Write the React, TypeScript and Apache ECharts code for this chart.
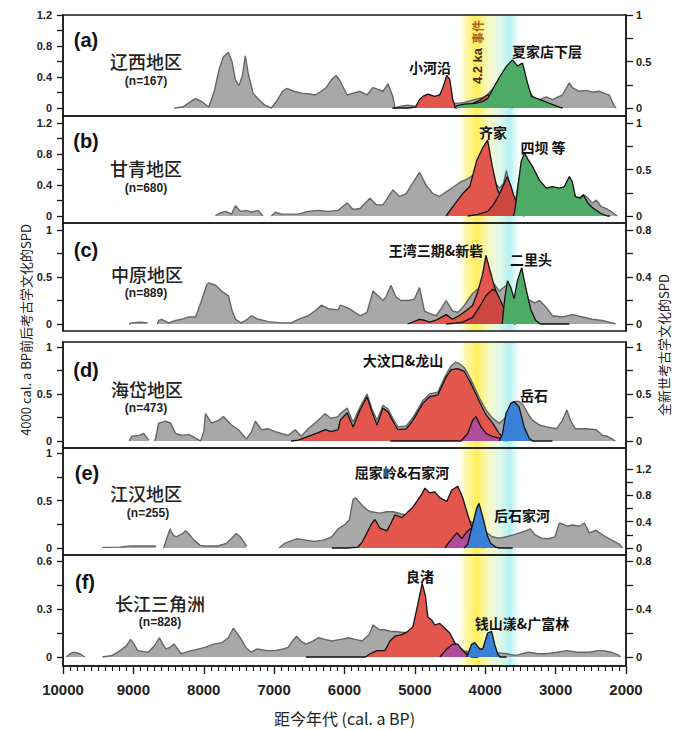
import React, { useEffect, useRef } from "react";
import * as echarts from "echarts";

// ---------- axis / band values ----------
const X_RANGE = [2000, 10000];
const X_TICK = 1000;
const EVENT_BAND = [4380, 3500];

// ---------- (a) 辽西 ----------
const A_GRAY = [[8420,0],[8300,0.01],[8200,0.06],[8120,0.1],[8030,0.07],[7930,0.01],[7850,0.18],[7780,0.42],[7720,0.55],[7650,0.6],[7600,0.5],[7550,0.3],[7500,0.24],[7450,0.35],[7410,0.56],[7370,0.38],[7300,0.16],[7230,0.1],[7130,0.03],[7040,0],[6960,0.08],[6880,0.18],[6820,0.21],[6720,0.18],[6610,0.16],[6500,0.15],[6420,0.14],[6330,0.18],[6260,0.22],[6190,0.3],[6120,0.35],[6062,0.29],[5963,0.14],[5878,0.16],[5779,0.18],[5680,0.14],[5595,0.22],[5524,0.2],[5453,0.18],[5382,0.26],[5312,0.12],[5283,0],[5200,0.02],[5100,0.03],[5000,0.02],[4900,0.04],[4800,0.05],[4700,0.06],[4600,0.06],[4500,0.05],[4400,0.05],[4300,0.06],[4100,0.1],[4000,0.12],[3900,0.2],[3800,0.3],[3700,0.4],[3600,0.45],[3500,0.45],[3400,0.2],[3300,0.1],[3229,0.09],[3130,0.12],[3045,0.09],[2904,0.14],[2805,0.27],[2762,0.22],[2663,0.18],[2564,0.19],[2479,0.17],[2380,0.18],[2280,0.15],[2238,0.14],[2167,0.02],[2140,0]];
const A_XIAOHEYAN = [[5320,0],[5100,0],[4990,0.01],[4940,0.1],[4887,0.15],[4816,0.18],[4717,0.15],[4646,0.17],[4603,0.26],[4547,0.42],[4504,0.37],[4462,0.11],[4420,0],[4330,0.02],[4221,0.04],[4079,0.1],[3966,0.17],[3895,0.15],[3796,0.06],[3697,0.03],[3612,0]];
const A_XIAJIADIAN = [[4440,0],[4400,0.03],[4300,0.05],[4150,0.06],[4050,0.08],[3966,0.12],[3895,0.24],[3796,0.4],[3697,0.54],[3612,0.62],[3541,0.54],[3470,0.58],[3399,0.32],[3343,0.15],[3229,0.11],[3088,0.06],[2946,0.01],[2900,0]];

// ---------- (b) 甘青 ----------
const B_GRAY = [[7833,0],[7780,0.03],[7691,0.05],[7606,0.02],[7550,0.11],[7479,0.05],[7394,0.06],[7323,0.04],[7224,0.06],[7160,0],[7120,"-"],[7040,0],[6983,0.04],[6898,0.02],[6657,0.02],[6516,0.05],[6374,0.06],[6232,0.05],[6090,0.06],[6062,0.08],[5963,0.14],[5878,0.07],[5779,0.08],[5638,0.19],[5547,0.12],[5453,0.12],[5312,0.28],[5218,0.21],[5123,0.24],[5052,0.33],[4934,0.47],[4840,0.33],[4745,0.24],[4651,0.21],[4556,0.26],[4438,0.32],[4344,0.37],[4273,0.39],[4150,0.45],[4000,0.5],[3900,0.4],[3800,0.3],[3740,0.35],[3700,0.49],[3640,0.3],[3580,0.1],[3520,0.4],[3450,0.55],[3330,0.45],[3230,0.33],[3130,0.28],[3045,0.28],[2946,0.28],[2876,0.3],[2805,0.38],[2762,0.33],[2720,0.2],[2650,0.2],[2606,0.23],[2564,0.21],[2480,0.14],[2422,0.17],[2351,0.1],[2280,0.08],[2195,0.04],[2125,0]];
const B_QIJIA = [[4556,0],[4460,0.12],[4320,0.29],[4220,0.38],[4120,0.72],[4030,0.89],[3966,0.98],[3900,0.64],[3830,0.35],[3760,0.2],[3690,0.12],[3610,0.05],[3520,0.02],[3450,0]];
const B_QIJIA_LATE = [[4250,0],[4100,0.02],[3966,0.06],[3880,0.15],[3800,0.28],[3740,0.4],[3690,0.51],[3640,0.4],[3600,0.28],[3540,0.14],[3480,0.04],[3440,0]];
const B_SIBA = [[3600,0],[3583,0.05],[3540,0.35],[3490,0.7],[3442,0.82],[3400,0.74],[3329,0.64],[3229,0.46],[3130,0.36],[3045,0.38],[2946,0.36],[2876,0.38],[2805,0.51],[2762,0.44],[2720,0.25],[2650,0.23],[2606,0.27],[2536,0.16],[2465,0.1],[2351,0.03],[2266,0],[2230,0]];

// ---------- (c) 中原 ----------
const C_GRAY = [[9060,0],[9023,0.01],[8900,0.015],[8800,0.01],[8760,"-"],[8660,0],[8640,0.03],[8600,0.04],[8500,0.01],[8400,0.03],[8314,0.04],[8215,0.06],[8116,0.06],[8031,0.2],[7960,0.33],[7932,0.35],[7833,0.33],[7748,0.28],[7649,0.24],[7600,0.12],[7550,0.04],[7465,0.01],[7380,0.04],[7323,0.07],[7224,0.04],[7082,0.02],[6898,0.01],[6756,0.01],[6657,0.04],[6516,0.07],[6400,0.12],[6331,0.16],[6232,0.13],[6090,0.12],[6062,0.16],[5963,0.14],[5878,0.11],[5779,0.07],[5680,0.1],[5595,0.28],[5524,0.24],[5453,0.2],[5411,0.23],[5340,0.33],[5269,0.23],[5198,0.2],[5104,0.2],[5009,0.21],[4934,0.31],[4863,0.11],[4792,0.09],[4698,0.07],[4627,0.13],[4556,0.2],[4462,0.11],[4391,0.1],[4320,0.14],[4250,0.2],[4179,0.26],[4100,0.3],[4000,0.38],[3900,0.36],[3800,0.28],[3700,0.33],[3600,0.2],[3500,0.35],[3426,0.3],[3390,0.21],[3300,0.18],[3230,0.2],[3130,0.14],[3045,0.07],[2904,0.06],[2762,0.08],[2620,0.06],[2480,0.04],[2338,0.03],[2195,0.01],[2150,0]];
const C_WANGWAN = [[5104,0],[4934,0.05],[4863,0.04],[4792,0.02],[4698,0.04],[4627,0.07],[4556,0.1],[4462,0.05],[4368,0.09],[4273,0.14],[4179,0.2],[4108,0.34],[4037,0.53],[3990,0.73],[3943,0.6],[3886,0.44],[3830,0.3],[3760,0.2],[3690,0.1],[3612,0.02],[3590,0]];
const C_XINZHAI = [[4556,0],[4420,0.01],[4320,0.02],[4179,0.07],[4084,0.18],[3990,0.3],[3895,0.37],[3848,0.35],[3801,0.28],[3730,0.16],[3660,0.05],[3612,0.01],[3565,0]];
const C_ERLITOU = [[3760,0],[3722,0.28],[3684,0.46],[3637,0.39],[3590,0.27],[3543,0.46],[3482,0.6],[3426,0.39],[3355,0.16],[3285,0.04],[3214,0],[2805,0]];

// ---------- (d) 海岱 ----------
const D_GRAY = [[9060,0],[9023,0.05],[8924,0.06],[8853,0.08],[8782,0.01],[8760,"-"],[8700,0],[8683,0.03],[8640,0.19],[8541,0.21],[8470,0.19],[8400,0.08],[8314,0.06],[8215,0.07],[8116,0.03],[8045,0],[8000,0.1],[7975,0.29],[7890,0.19],[7790,0.22],[7720,0.26],[7606,0.17],[7507,0.12],[7394,0.02],[7320,0.1],[7266,0.21],[7181,0.12],[7082,0.13],[6983,0.1],[6898,0.08],[6799,0.06],[6700,0.12],[6615,0.05],[6516,0.13],[6374,0.22],[6275,0.29],[6190,0.24],[6090,0.26],[6062,0.29],[5963,0.35],[5878,0.2],[5779,0.36],[5680,0.5],[5609,0.34],[5538,0.22],[5453,0.38],[5382,0.34],[5312,0.24],[5241,0.15],[5123,0.16],[5028,0.25],[4887,0.43],[4792,0.5],[4674,0.52],[4556,0.71],[4485,0.8],[4420,0.84],[4360,0.82],[4297,0.78],[4202,0.65],[4084,0.46],[3990,0.33],[3895,0.24],[3801,0.19],[3707,0.25],[3636,0.35],[3570,0.42],[3520,0.42],[3460,0.38],[3400,0.3],[3329,0.22],[3229,0.17],[3130,0.15],[2988,0.13],[2904,0.22],[2840,0.33],[2790,0.22],[2720,0.13],[2564,0.13],[2422,0.12],[2338,0.06],[2266,0.05],[2195,0.02],[2150,0]];
const D_DAWENKOU = [[6760,0],[6657,0.01],[6516,0.05],[6374,0.09],[6275,0.12],[6190,0.1],[6090,0.12],[6062,0.22],[5963,0.3],[5878,0.15],[5779,0.33],[5680,0.47],[5609,0.31],[5538,0.17],[5453,0.35],[5382,0.31],[5312,0.21],[5241,0.12],[5123,0.13],[5028,0.22],[4887,0.4],[4792,0.47],[4674,0.49],[4556,0.68],[4485,0.76],[4391,0.77],[4297,0.74],[4202,0.61],[4084,0.42],[3990,0.28],[3895,0.19],[3801,0.08],[3707,0.01],[3680,0]];
const D_OVERLAP = [[5350,0],[4344,0],[4250,0.08],[4179,0.22],[4132,0.26],[4061,0.15],[3990,0.08],[3895,0.05],[3801,0.03],[3707,0]];
const D_YUESHI = [[3801,0],[3754,0.08],[3707,0.29],[3636,0.4],[3589,0.42],[3518,0.36],[3447,0.15],[3376,0.03],[3329,0],[3045,0]];

// ---------- (e) 江汉 ----------
const E_GRAY = [[9440,0.01],[9200,0.014],[9040,0.03],[8800,0.03],[8680,0.03],[8630,"-"],[8570,0],[8480,0.29],[8430,0.19],[8390,0.17],[8300,0.22],[8260,0.26],[8200,0.2],[8140,0.12],[8050,0.04],[7980,0.03],[7800,0.03],[7680,0.07],[7610,0.14],[7540,0.22],[7480,0.17],[7390,0.03],[7350,"-"],[6930,0],[6850,0.07],[6680,0.14],[6550,0.12],[6430,0.1],[6300,0.12],[6180,0.17],[6090,0.29],[5990,0.36],[5930,0.43],[5878,0.74],[5840,0.76],[5750,0.65],[5680,0.58],[5620,0.55],[5500,0.53],[5400,0.55],[5310,0.55],[5200,0.52],[5120,0.5],[5000,0.5],[4800,0.5],[4600,0.5],[4400,0.5],[4200,0.4],[4000,0.25],[3900,0.17],[3800,0.15],[3700,0.17],[3600,0.2],[3513,0.23],[3450,0.25],[3360,0.29],[3290,0.2],[3200,0.15],[3100,0.14],[3010,0.17],[2946,0.38],[2890,0.36],[2830,0.33],[2770,0.35],[2663,0.33],[2592,0.38],[2521,0.23],[2427,0.27],[2333,0.2],[2286,0.17],[2200,0.12],[2096,0.06],[2050,0]];
const E_QUJIALING = [[6180,0],[5950,0],[5810,0.01],[5750,0.06],[5680,0.16],[5620,0.25],[5567,0.3],[5496,0.21],[5397,0.18],[5340,0.26],[5283,0.35],[5184,0.32],[5113,0.37],[5040,0.42],[4972,0.49],[4900,0.57],[4858,0.63],[4788,0.58],[4717,0.59],[4646,0.53],[4547,0.49],[4476,0.61],[4391,0.65],[4320,0.53],[4249,0.35],[4178,0.19],[4108,0.09],[4051,0.02],[4000,0]];
const E_OVERLAP = [[4575,0],[4504,0.07],[4405,0.16],[4334,0.1],[4249,0.18],[4193,0.21],[4122,0.09],[4079,0.02],[4040,0]];
const E_HOUSHIJIAHE = [[4300,0],[4249,0.04],[4178,0.25],[4122,0.42],[4089,0.47],[4037,0.33],[3966,0.12],[3924,0.05],[3853,0.01],[3800,0],[3610,0]];

// ---------- (f) 长江三角洲 ----------
const F_GRAY = [[9950,0],[9900,0.027],[9845,0.04],[9760,0.027],[9690,0],[9650,"-"],[9440,0],[9300,0.013],[9220,0.04],[9100,0.093],[9040,0.147],[8990,0.107],[8940,0.053],[8790,0.04],[8700,0.093],[8630,0.16],[8580,0.107],[8540,0.067],[8480,0.08],[8420,0.107],[8320,0.027],[8250,0.04],[8170,0.053],[7980,0.08],[7860,0.107],[7740,0.12],[7650,0.16],[7580,0.24],[7530,0.2],[7480,0.16],[7400,0.08],[7330,0.04],[7240,0.067],[7100,0.053],[6990,0.053],[6870,0.067],[6800,0.08],[6740,0.133],[6680,0.173],[6620,0.133],[6550,0.107],[6450,0.133],[6370,0.16],[6280,0.147],[6180,0.133],[6050,0.147],[5930,0.16],[5850,0.147],[5750,0.133],[5650,0.187],[5595,0.267],[5500,0.227],[5440,0.227],[5340,0.213],[5280,0.213],[5100,0.2],[4900,0.2],[4700,0.2],[4500,0.15],[4300,0.05],[4100,0.027],[3900,0.04],[3700,0.027],[3570,0.013],[3390,0.04],[3250,0.027],[3140,0.027],[2980,0.04],[2830,0.053],[2700,0.04],[2520,0.04],[2400,0.053],[2330,0.053],[2210,0.04],[2100,0.013],[2080,0]];
const F_LIANGZHU = [[6550,0],[5700,0],[5638,0.02],[5538,0.04],[5425,0.04],[5354,0.1],[5283,0.13],[5184,0.14],[5099,0.16],[5028,0.19],[4958,0.33],[4896,0.46],[4849,0.38],[4816,0.25],[4759,0.23],[4717,0.2],[4646,0.21],[4575,0.18],[4504,0.15],[4433,0.09],[4362,0.05],[4263,0.02],[4193,0],[4100,0]];
const F_OVERLAP = [[4646,0],[4547,0.05],[4462,0.08],[4391,0.08],[4320,0.04],[4249,0.01],[4200,0]];
const F_QIANSHANYANG = [[4263,0],[4193,0.08],[4150,0.09],[4079,0.05],[4037,0.05],[3966,0.15],[3909,0.16],[3867,0.08],[3825,0.02],[3790,0],[3697,0]];

// ---------- texts ----------
const PANEL_TAGS = ["(a)", "(b)", "(c)", "(d)", "(e)", "(f)"];
const REGION_NAMES = ["辽西地区", "甘青地区", "中原地区", "海岱地区", "江汉地区", "长江三角洲"];
const REGION_N = ["(n=167)", "(n=680)", "(n=889)", "(n=473)", "(n=255)", "(n=828)"];
const CULTURE_NAMES = ["小河沿", "夏家店下层", "齐家", "四坝 等", "王湾三期&新砦", "二里头", "大汶口&龙山", "岳石", "屈家岭&石家河", "后石家河", "良渚", "钱山漾&广富林"];

const LEFT_TICKS = [[0,0.2,0.4,0.6,0.8,1,1.2],[0,0.2,0.4,0.6,0.8,1,1.2],[0,0.25,0.5,0.75,1],[0,0.25,0.5,0.75,1],[0,0.25,0.5,0.75,1],[0,0.15,0.3,0.45,0.6]];
const LEFT_LABELS = [[0,0.4,0.8,1.2],[0,0.4,0.8,1.2],[0,0.5,1],[0,0.5,1],[0,0.5,1],[0,0.3,0.6]];
const RIGHT_TICKS = [[0,0.25,0.5,0.75,1],[0,0.25,0.5,0.75,1],[0,0.2,0.4,0.6,0.8],[0,0.25,0.5,0.75,1],[0,0.2,0.4,0.6,0.8,1,1.2],[0,0.2,0.4,0.6,0.8]];
const RIGHT_LABELS = [[0,0.5,1],[0,0.5,1],[0,0.4,0.8],[0,0.5,1],[0,0.4,0.8,1.2],[0,0.4,0.8]];

// ---------- layout (pixels) ----------
const LAYOUT = [
  { top: 15, bottom: 116, y0: 108, lPx: 93, lTop: 1.2, rPx: 93, rTop: 1 },
  { top: 116, bottom: 223, y0: 216, lPx: 93, lTop: 1.2, rPx: 93, rTop: 1 },
  { top: 223, bottom: 331, y0: 324, lPx: 94, lTop: 1, rPx: 94, rTop: 0.8 },
  { top: 342, bottom: 448, y0: 441, lPx: 94, lTop: 1, rPx: 94, rTop: 1 },
  { top: 448, bottom: 555, y0: 548, lPx: 95, lTop: 1, rPx: 79, rTop: 1.2 },
  { top: 555, bottom: 666, y0: 657, lPx: 96, lTop: 0.6, rPx: 96, rTop: 0.8 },
];
const TAG_POS = [[86,40],[86,141],[86,250],[86,370],[87,473],[85,582]];
const NAME_POS = [[146,61],[146,168],[147,274],[147,389],[146,493],[160,603]];
const N_POS = [[146,81],[146,188],[146,293],[146,408],[148,513],[160,622]];
const CULTURE_POS = [[430,67],[547,51],[493,132],[543,147],[436,250],[531,259],[403,360],[534,395],[402,472],[522,515],[420,576],[522,623]];

const C = {
  gray: "#a8a8a8",
  grayLine: "#666666",
  red: "#e3564d",
  red2: "#cc4740",
  green: "#4dab66",
  blue: "#3a80d6",
  purple: "#b04c98",
  ink: "#1a1a1a",
};
const LATIN = "'Liberation Sans', Arial, sans-serif";
const CJK = "'Noto Sans CJK SC', 'Liberation Sans', sans-serif";

const PANEL_SERIES: Array<{ gray: any[]; cultures: Array<[any[], string]> }> = [
  { gray: A_GRAY, cultures: [[A_XIAOHEYAN, C.red], [A_XIAJIADIAN, C.green]] },
  { gray: B_GRAY, cultures: [[B_QIJIA, C.red], [B_QIJIA_LATE, C.red2], [B_SIBA, C.green]] },
  { gray: C_GRAY, cultures: [[C_WANGWAN, C.red], [C_XINZHAI, C.red2], [C_ERLITOU, C.green]] },
  { gray: D_GRAY, cultures: [[D_DAWENKOU, C.red], [D_OVERLAP, C.purple], [D_YUESHI, C.blue]] },
  { gray: E_GRAY, cultures: [[E_QUJIALING, C.red], [E_OVERLAP, C.purple], [E_HOUSHIJIAHE, C.blue]] },
  { gray: F_GRAY, cultures: [[F_LIANGZHU, C.red], [F_OVERLAP, C.purple], [F_QIANSHANYANG, C.blue]] },
];

function fmt(v: number) {
  return String(Math.round(v * 100) / 100);
}

function buildOption() {
  const grid: any[] = [];
  const xAxis: any[] = [];
  const yAxis: any[] = [];
  const series: any[] = [];

  const band = new echarts.graphic.LinearGradient(0, 0, 1, 0, [
    { offset: 0, color: "rgba(255,250,160,0)" },
    { offset: 0.12, color: "rgba(255,242,110,0.6)" },
    { offset: 0.3, color: "rgba(255,236,60,0.85)" },
    { offset: 0.5, color: "rgba(240,246,170,0.65)" },
    { offset: 0.66, color: "rgba(205,244,220,0.6)" },
    { offset: 0.83, color: "rgba(160,236,240,0.8)" },
    { offset: 1, color: "rgba(190,245,250,0)" },
  ]);

  LAYOUT.forEach((p, i) => {
    grid.push({
      left: 63,
      right: 58,
      top: p.top,
      height: p.bottom - p.top,
      show: true,
      z: 10,
      borderColor: C.ink,
      borderWidth: 1.5,
      backgroundColor: "transparent",
    });
    const last = i === LAYOUT.length - 1;
    xAxis.push({
      type: "value",
      gridIndex: i,
      min: X_RANGE[0],
      max: X_RANGE[1],
      interval: X_TICK,
      inverse: true,
      show: last,
      z: 10,
      axisLine: { show: true, onZero: false, lineStyle: { color: C.ink, width: 1.5 } },
      axisTick: { show: true, inside: false, length: 8, lineStyle: { color: C.ink, width: 1.4 } },
      minorTick: { show: true, splitNumber: 10, length: 5, lineStyle: { color: C.ink, width: 1.1 } },
      splitLine: { show: false },
      minorSplitLine: { show: false },
      axisLabel: { show: true, margin: 16, formatter: (v: number) => String(v), color: "#222", fontSize: 15, fontWeight: "bold", fontFamily: LATIN },
      name: last ? "距今年代 (cal. a BP)" : "",
      nameLocation: "middle",
      nameGap: 44,
      nameTextStyle: { fontSize: 16, color: "#222", fontFamily: CJK },
    });
    const lv = p.lTop / p.lPx;
    const rv = p.rTop / p.rPx;
    const common = {
      type: "value",
      gridIndex: i,
      z: 10,
      splitLine: { show: false },
      axisLine: { show: true, onZero: false, lineStyle: { color: C.ink, width: 1.5 } },
    };
    yAxis.push({
      ...common,
      position: "left",
      min: -(p.bottom - p.y0) * lv,
      max: (p.y0 - p.top) * lv + 1e-6,
      axisTick: { show: true, inside: false, length: 6, customValues: LEFT_TICKS[i], lineStyle: { color: C.ink, width: 1.3 } },
      axisLabel: { show: true, customValues: LEFT_LABELS[i], formatter: fmt, margin: 11, color: "#222", fontSize: 11, fontWeight: "bold", fontFamily: LATIN },
    });
    yAxis.push({
      ...common,
      position: "right",
      min: -(p.bottom - p.y0) * rv,
      max: (p.y0 - p.top) * rv + 1e-6,
      axisTick: { show: true, inside: false, length: 7, customValues: RIGHT_TICKS[i], lineStyle: { color: C.ink, width: 1.3 } },
      axisLabel: { show: true, customValues: RIGHT_LABELS[i], formatter: fmt, margin: 10, color: "#222", fontSize: 11, fontWeight: "bold", fontFamily: LATIN },
    });

    const ps = PANEL_SERIES[i];
    series.push({
      type: "line",
      name: "SPD " + PANEL_TAGS[i],
      xAxisIndex: i,
      yAxisIndex: 2 * i + 1,
      data: ps.gray,
      symbol: "none",
      showSymbol: false,
      connectNulls: false,
      silent: true,
      z: 2,
      lineStyle: { color: C.grayLine, width: 1.4 },
      areaStyle: { color: C.gray, opacity: 1 },
      markArea: {
        silent: true,
        itemStyle: { color: band, borderWidth: 0 },
        data: [[{ xAxis: EVENT_BAND[0] }, { xAxis: EVENT_BAND[1] }]],
      },
    });
    ps.cultures.forEach(([d, col], k) => {
      series.push({
        type: "line",
        xAxisIndex: i,
        yAxisIndex: 2 * i,
        data: d,
        symbol: "none",
        showSymbol: false,
        silent: true,
        z: 3 + k,
        lineStyle: { color: "#111", width: 1.3 },
        areaStyle: { color: col, opacity: 1 },
      });
    });
  });

  const graphic: any[] = [];
  const txt = (x: number, y: number, style: any, rotation = 0) => ({
    type: "text", x, y, rotation, z: 100, zlevel: 0, silent: true,
    style: { fill: "#111", textAlign: "center", textVerticalAlign: "middle", ...style },
  });
  PANEL_TAGS.forEach((t, i) => {
    graphic.push(txt(TAG_POS[i][0], TAG_POS[i][1], { text: t, fontSize: 20, fontWeight: "bold", fontFamily: LATIN }));
    graphic.push(txt(NAME_POS[i][0], NAME_POS[i][1], { text: REGION_NAMES[i], fill: "#222", fontSize: 18, fontWeight: 500, fontFamily: CJK }));
    graphic.push(txt(N_POS[i][0], N_POS[i][1], { text: REGION_N[i], fill: "#222", fontSize: 12, fontWeight: "bold", fontFamily: LATIN }));
  });
  CULTURE_NAMES.forEach((t, i) => {
    graphic.push(txt(CULTURE_POS[i][0], CULTURE_POS[i][1], { text: t, fontSize: 14, fontWeight: "bold", fontFamily: CJK }));
  });
  graphic.push(txt(477, 66, { text: "4.2 ka", fill: "#4a2606", fontSize: 13, fontWeight: "bold", fontFamily: LATIN }, Math.PI / 2));
  graphic.push(txt(477, 32, { text: "事件", fill: "#b0601c", fontSize: 12, fontWeight: "bold", fontFamily: CJK }, Math.PI / 2));
  graphic.push(txt(25, 330, { text: "4000 cal. a BP前后考古学文化的SPD", fill: "#222", fontSize: 13, fontFamily: CJK }, Math.PI / 2));
  graphic.push(txt(663, 345, { text: "全新世考古学文化的SPD", fill: "#222", fontSize: 13, fontFamily: CJK }, Math.PI / 2));

  return {
    animation: false,
    backgroundColor: "#ffffff",
    grid,
    xAxis,
    yAxis,
    series,
    graphic,
  };
}

export default function App() {
  const ref = useRef<HTMLDivElement>(null);
  useEffect(() => {
    if (!ref.current) return;
    const chart = echarts.init(ref.current, null, { renderer: "svg" });
    chart.setOption(buildOption() as any);
    return () => chart.dispose();
  }, []);
  return (
    <div
      ref={ref}
      style={{ position: "absolute", left: 0, top: 0, width: 684, height: 730, background: "#fff" }}
    />
  );
}
